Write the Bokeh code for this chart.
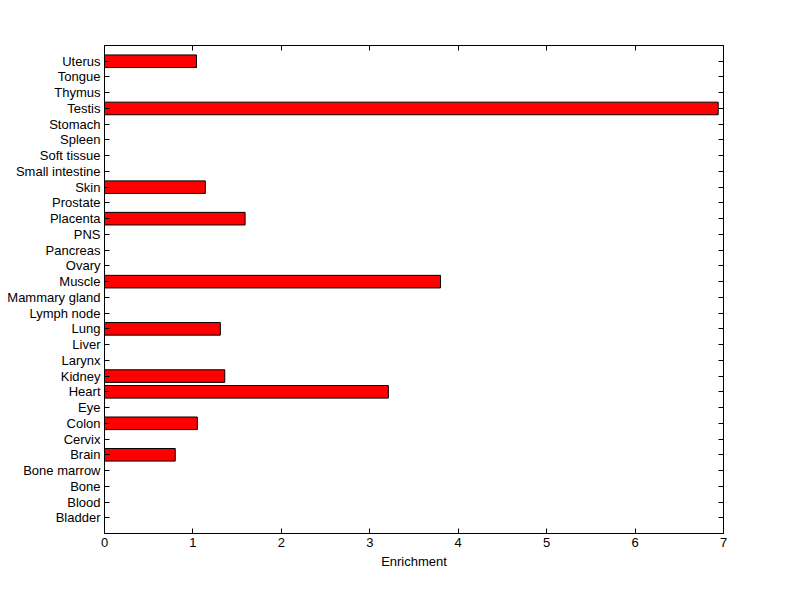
from bokeh.plotting import figure
from bokeh.models import (ColumnDataSource, LinearAxis, FixedTicker, Range1d, CustomJSTickFormatter)
from bokeh.embed import file_html
from bokeh.resources import INLINE

tissues = ["Bladder", "Blood", "Bone", "Bone marrow", "Brain", "Cervix", "Colon", "Eye",
           "Heart", "Kidney", "Larynx", "Liver", "Lung", "Lymph node", "Mammary gland",
           "Muscle", "Ovary", "Pancreas", "PNS", "Placenta", "Prostate", "Skin",
           "Small intestine", "Soft tissue", "Spleen", "Stomach", "Testis", "Thymus",
           "Tongue", "Uterus"]
enrichment = [0, 0, 0, 0, 0.80, 0, 1.05, 0,
              3.21, 1.36, 0, 0, 1.31, 0, 0,
              3.80, 0, 0, 0, 1.59, 0, 1.14,
              0, 0, 0, 0, 6.94, 0,
              0, 1.04]
x_ticks = [0, 1, 2, 3, 4, 5, 6, 7]

pos = list(range(1, len(tissues) + 1))
nz = [(i, v) for i, v in zip(pos, enrichment) if v > 0]
src = ColumnDataSource(dict(y=[i for i, _ in nz], right=[v for _, v in nz]))

FONT = "Liberation Sans"
FS = "13px"

p = figure(width=784, height=583, output_backend="svg", toolbar_location=None,
           y_range=Range1d(0, len(tissues) + 1), x_range=Range1d(0, 7),
           x_axis_location=None, y_axis_location=None,
           min_border_left=104, min_border_right=61, min_border_top=45, min_border_bottom=50)
p.hbar(y="y", right="right", left=0, height=0.8, source=src,
       fill_color="#ff0000", line_color="black", line_width=1)

p.xgrid.visible = False
p.ygrid.visible = False
p.outline_line_color = "black"
p.outline_line_width = 1
p.background_fill_color = "white"
p.border_fill_color = "white"

def style(ax):
    ax.major_tick_in = 5
    ax.major_tick_out = 0
    ax.minor_tick_in = 0
    ax.minor_tick_out = 0
    ax.axis_line_color = "black"
    ax.major_tick_line_color = "black"
    ax.major_label_text_font = FONT
    ax.major_label_text_font_size = FS
    ax.major_label_text_color = "black"
    ax.axis_label_text_font = FONT
    ax.axis_label_text_font_size = FS
    ax.axis_label_text_color = "black"
    ax.axis_label_text_font_style = "normal"

blank = CustomJSTickFormatter(code="return '';")

xb = LinearAxis(ticker=FixedTicker(ticks=x_ticks), axis_label="Enrichment")
style(xb)
xb.major_label_standoff = 4
xb.axis_label_standoff = 4
p.add_layout(xb, "below")

xt = LinearAxis(ticker=FixedTicker(ticks=x_ticks), formatter=blank)
style(xt)
xt.major_label_standoff = 0
p.add_layout(xt, "above")

yl = LinearAxis(ticker=FixedTicker(ticks=pos),
                major_label_overrides={i: t for i, t in zip(pos, tissues)})
style(yl)
yl.major_label_standoff = 4
p.add_layout(yl, "left")

yr = LinearAxis(ticker=FixedTicker(ticks=pos), formatter=CustomJSTickFormatter(code="return '';"))
style(yr)
yr.major_label_standoff = 0
p.add_layout(yr, "right")

open("out.html", "w").write(file_html(p, INLINE))
